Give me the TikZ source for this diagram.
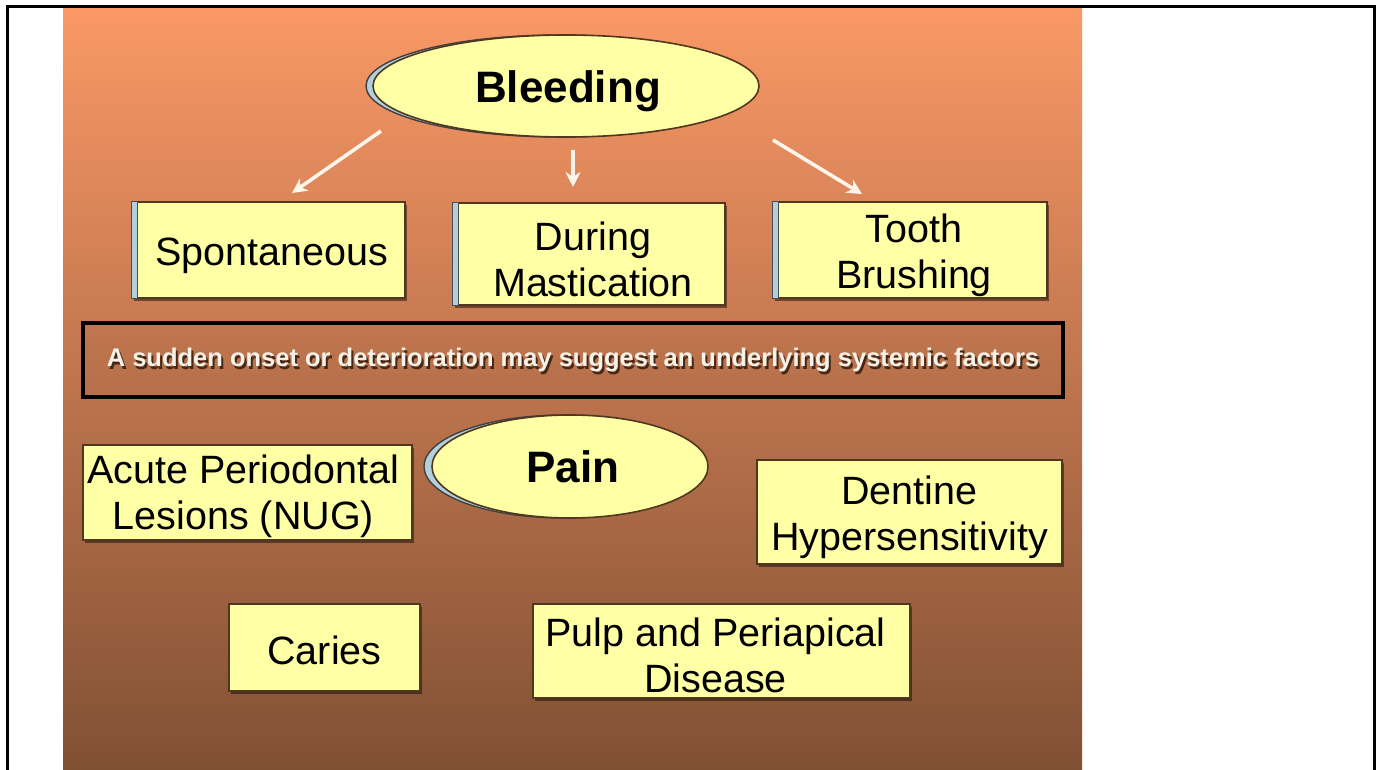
\documentclass[tikz,border=0pt]{standalone}
\usepackage{fontspec}
\setmainfont{Liberation Sans}
\usetikzlibrary{shapes.geometric,arrows.meta,shadows}
\definecolor{slidetop}{RGB}{250,152,102}
\definecolor{slidemid}{RGB}{203,116,72}
\definecolor{slidebot}{RGB}{128,80,52}
\definecolor{boxfill}{RGB}{255,255,165}
\definecolor{boxline}{RGB}{80,55,30}
\definecolor{stripblue}{RGB}{178,208,220}
\definecolor{bannertext}{RGB}{246,242,232}
\definecolor{txtshadow}{RGB}{70,40,25}
\tikzset{
  yellowbox/.style={draw=boxline, line width=1.2pt, fill=boxfill, rectangle, inner sep=0pt,
    drop shadow={shadow xshift=2pt, shadow yshift=-3pt, opacity=0.45, fill=black}},
  boxtext/.style={align=center, inner sep=0pt, font=\fontsize{39.5}{46}\selectfont, text=black},
  yellowoval/.style={ellipse, draw=boxline, line width=1.6pt, fill=boxfill, inner sep=0pt},
  ovaltext/.style={inner sep=0pt, font=\fontsize{44}{50}\selectfont\bfseries, text=black},
  ovalback/.style={ellipse, draw=black!75, line width=1.4pt, fill=stripblue, inner sep=0pt},
  whitearrow/.style={draw=white!92!orange, line width=3.6pt,
    -{Stealth[length=15pt,width=15pt]}},
  strip/.style={fill=stripblue, draw=black!70, line width=1pt}
}
\begin{document}
\begin{tikzpicture}[x=1pt,y=-1pt]
\useasboundingbox (0,0) rectangle (1377,770);
\fill[white] (0,0) rectangle (1377,770);
% slide background
\shade[top color=slidetop, middle color=slidemid, bottom color=slidebot]
  (63,8) rectangle (1082,770);
% frame
\draw[line width=3pt, black] (7,770) -- (7,7) -- (1374,7) -- (1374,770);

% Bleeding ellipse
\node[ovalback, minimum width=386pt, minimum height=102pt] (bleedback) at (559,86) {};
\node[yellowoval, minimum width=386pt, minimum height=102pt] (bleed) at (566,86) {};
\node[ovaltext] (bleedtext) at ([xshift=2pt,yshift=-5pt]bleed.center) {Bleeding};

% top boxes
\node[yellowbox, minimum width=273pt, minimum height=96pt] (spon) at (268.5,250) {};
\node[yellowbox, minimum width=272pt, minimum height=102pt] (mast) at (589,254) {};
\node[yellowbox, minimum width=274pt, minimum height=96pt] (tooth) at (910,250) {};
\foreach \b in {spon,mast,tooth}{
  \path[strip] (\b.north west) rectangle ([xshift=6pt]\b.south west);
}
\node[boxtext] (spontext) at ([xshift=3pt,yshift=-6pt]spon.center) {Spontaneous};
\node[boxtext] (masttext) at ([xshift=4pt,yshift=-5pt]mast.center) {During\\Mastication};
\node[boxtext] (toothtext) at ([xshift=4pt,yshift=-5pt]tooth.center) {Tooth\\Brushing};

% arrows
\coordinate (a1s) at (381,131); \coordinate (a1e) at (292,193);
\coordinate (a2s) at (573,150); \coordinate (a2e) at (573,187);
\coordinate (a3s) at (773,140); \coordinate (a3e) at (862,194);
\draw[whitearrow] (a1s) -- (a1e);
\draw[whitearrow] (a2s) -- (a2e);
\draw[whitearrow] (a3s) -- (a3e);

% banner
\node[draw=black, line width=3.2pt, rectangle, minimum width=980pt, minimum height=74pt, inner sep=0pt,
  fill=black, fill opacity=0.03, text opacity=1] (banner) at (573,360) {};
\node[font=\fontsize{25.5}{30}\selectfont\bfseries, text=txtshadow, inner sep=0pt] (bannershadow) at (575,362.5)
  {A sudden onset or deterioration may suggest an underlying systemic factors};
\node[font=\fontsize{25.5}{30}\selectfont\bfseries, text=bannertext, inner sep=0pt] (bannerlabel) at (573,360)
  {A sudden onset or deterioration may suggest an underlying systemic factors};

% Pain ellipse
\node[ovalback, minimum width=278pt, minimum height=103pt] (painback) at (563,466.5) {};
\node[yellowoval, minimum width=276pt, minimum height=103pt] (pain) at (570,466.5) {};
\node[ovaltext] (paintext) at ([xshift=3pt]pain.center) {Pain};

% lower boxes
\node[yellowbox, minimum width=329pt, minimum height=95pt] (acute) at (247.5,492.5) {};
\node[yellowbox, minimum width=305pt, minimum height=104pt] (dent) at (909.5,512) {};
\node[yellowbox, minimum width=191pt, minimum height=87pt] (caries) at (324.5,647.5) {};
\node[yellowbox, minimum width=377pt, minimum height=94pt] (pulp) at (721.5,651) {};
\node[boxtext] (acutetext) at ([xshift=-4pt,yshift=-4pt]acute.center) {Acute Periodontal\\Lesions (NUG)};
\node[boxtext] (denttext) at ([yshift=-5pt]dent.center) {Dentine\\Hypersensitivity};
\node[boxtext] (cariestext) at ([yshift=-3pt]caries.center) {Caries};
\node[boxtext] (pulptext) at ([xshift=-6pt,yshift=-4pt]pulp.center) {Pulp and Periapical\\Disease};
\end{tikzpicture}
\end{document}
